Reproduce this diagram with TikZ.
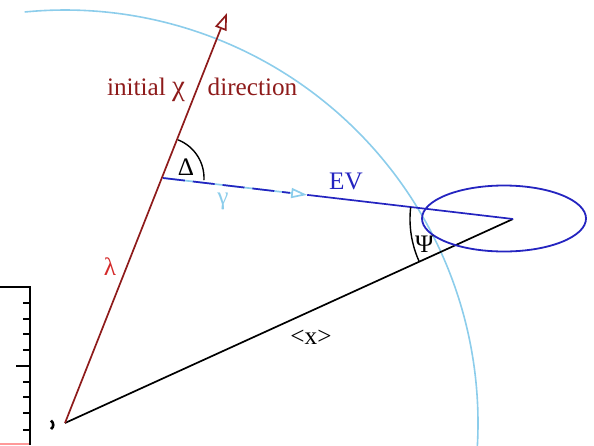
\documentclass[tikz,border=0pt]{standalone}
\usepackage{fontspec}
\setmainfont{Liberation Serif}
\usetikzlibrary{arrows.meta,calc}
\definecolor{dred}{HTML}{8E1B1B}
\definecolor{lred}{HTML}{D42A2A}
\definecolor{sky}{HTML}{8CCDEB}
\definecolor{dblue}{HTML}{2424C0}
\begin{document}
\begin{tikzpicture}[x=0.5pt,y=0.5pt,
  every node/.style={inner sep=0pt,font=\fontsize{12.6}{14}\selectfont},
  vec/.style={line width=0.85pt},
  lbl/.style={anchor=center}]
\useasboundingbox (0,0) rectangle (594,-445);
\clip (0,0) rectangle (594,-445);
\coordinate (O) at (65,-423);
\coordinate (T) at (227,-13);
\coordinate (G) at (163,-178);
\coordinate (X) at (513,-219);
\coordinate (A) at ($(G)!0.412!(X)$);
\coordinate (E) at (504,-218.5);
% sphere arc
\draw[sky,line width=0.8pt] (O) ++(95.6:413) arc[start angle=95.6,end angle=-10,radius=413];
% plot frame fragment at left
\draw[line width=0.6pt] (0,-287) -- (30,-287) -- (30,-445);
\foreach \yy in {303,319,334,350,382,397,413,430} \draw[line width=0.6pt] (30,-\yy) -- (23,-\yy);
\draw[line width=0.6pt] (30,-366) -- (16,-366);
\draw[red!40,line width=0.6pt] (0,-444) -- (29,-444);
\draw[line width=1.3pt] (51,-420.5) .. controls (54,-423) and (54,-427) .. (51,-429);
% vectors
\draw[vec,black] (O) -- (X);
\draw[vec,dred,-{Triangle[open,length=8.5pt,width=6pt,line width=0.85pt]}] (O) -- (T);
\draw[vec,sky,-{Triangle[open,length=8pt,width=5pt,line width=0.85pt]}] (G) -- (A);
\draw[vec,dblue,dash pattern=on 11 off 4] (G) -- ($(G)!0.88!(A)$);
\draw[vec,dblue] (A) -- (X);
\draw[dblue,line width=0.9pt] (E) ellipse[x radius=82,y radius=33];
% angle arcs
\draw[line width=0.7pt] (G) ++(68.4:41) arc[start angle=68.4,end angle=-3,radius=41];
\draw[line width=0.7pt] (X) ++(173.5:103) arc[start angle=173.5,end angle=204.5,radius=103];
% labels
\node[lbl,dred,anchor=base] (l1) at (146,-95) {initial {\fontsize{14.5}{14}\selectfont χ}};
\node[lbl,dred,anchor=base] (l2) at (252.5,-95) {direction};
\node[lbl,lred] (l3) at (110,-267) {λ};
\node[lbl] (l4) at (186,-167) {Δ};
\node[lbl,sky] (l5) at (223,-201) {γ};
\node[lbl,dblue] (l6) at (346,-181.5) {EV};
\node[lbl] (l7) at (424.5,-244.5) {Ψ};
\node[lbl] (l8) at (311,-337) {<x>};
\end{tikzpicture}
\end{document}
